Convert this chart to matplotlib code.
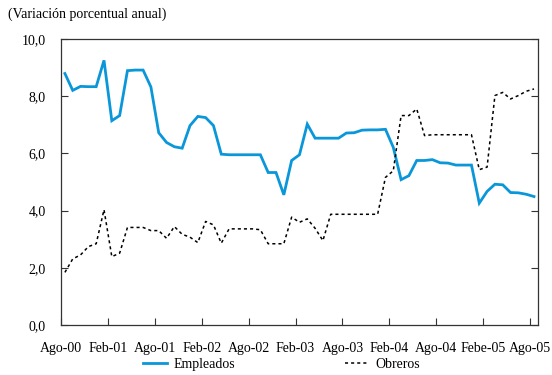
import matplotlib
matplotlib.use("Agg")
import matplotlib.pyplot as plt
import numpy as np

plt.rcParams['font.family'] = ['Liberation Serif', 'DejaVu Serif']

# Monthly series, Ago-00 .. Ago-05 (annual % change)
empleados = [8.79, 8.20, 8.34, 8.33, 8.33, 9.25, 7.14, 7.32, 8.89, 8.91,
             8.91, 8.32, 6.72, 6.38, 6.23, 6.18, 6.97, 7.29, 7.25, 6.97,
             5.97, 5.95, 5.95, 5.95, 5.95, 5.95, 5.33, 5.33, 4.55, 5.75,
             5.95, 7.02, 6.53, 6.53, 6.53, 6.53, 6.71, 6.72, 6.81, 6.82,
             6.82, 6.84, 6.21, 5.08, 5.22, 5.75, 5.75, 5.78, 5.67, 5.66,
             5.59, 5.59, 5.59, 4.26, 4.67, 4.92, 4.90, 4.63, 4.62, 4.57,
             4.49]
obreros = [1.84, 2.31, 2.45, 2.74, 2.84, 4.03, 2.39, 2.51, 3.41, 3.41,
           3.41, 3.30, 3.30, 3.03, 3.44, 3.17, 3.07, 2.88, 3.62, 3.50,
           2.86, 3.36, 3.36, 3.36, 3.36, 3.33, 2.84, 2.84, 2.84, 3.77,
           3.59, 3.71, 3.38, 2.95, 3.87, 3.87, 3.87, 3.87, 3.87, 3.87,
           3.87, 5.16, 5.39, 7.32, 7.32, 7.55, 6.62, 6.65, 6.65, 6.65,
           6.65, 6.65, 6.65, 5.43, 5.52, 8.02, 8.13, 7.90, 8.02, 8.17,
           8.25]
tick_labels = ["Ago-00", "Feb-01", "Ago-01", "Feb-02", "Ago-02", "Feb-03",
               "Ago-03", "Feb-04", "Ago-04", "Febe-05", "Ago-05"]
y_ticks = [0, 2, 4, 6, 8, 10]

n = len(empleados)
x = np.arange(n) + 0.5

fig = plt.figure(figsize=(5.52, 3.75), dpi=100)
ax = fig.add_axes([0.1105, 0.1333, 0.864, 0.763])

ax.plot(x, empleados, color="#0A97DA", lw=2.0, label="Empleados",
        solid_joinstyle="miter")
ax.plot(x, obreros, color="black", lw=1.1, linestyle=(0, (2, 2)),
        label="Obreros")

ax.set_xlim(0, n)
ax.set_ylim(0, 10)
ax.set_xticks(np.arange(0, n, 6))
ax.set_xticklabels(tick_labels)
ax.set_yticks(y_ticks)
ax.set_yticklabels([f"{v:.1f}".replace(".", ",") for v in y_ticks])

ax.tick_params(axis="x", direction="in", length=5, width=0.8, pad=12,
               labelsize=10, colors="#333333", labelcolor="black")
ax.tick_params(axis="y", direction="in", length=5, width=0.8, pad=11,
               labelsize=10, right=True, colors="#333333",
               labelcolor="black")
for s in ax.spines.values():
    s.set_color("#333333")
    s.set_linewidth(0.9)

fig.text(0.015, 0.962, "(Variación porcentual anual)", fontsize=10,
         ha="left", va="center")

ax.legend(loc="center", bbox_to_anchor=(0.463, -0.137), ncol=2,
          frameon=False, fontsize=10, handlelength=1.7, handletextpad=0.5,
          columnspacing=7.9, borderpad=0)

fig.savefig("out.png", dpi=100)
